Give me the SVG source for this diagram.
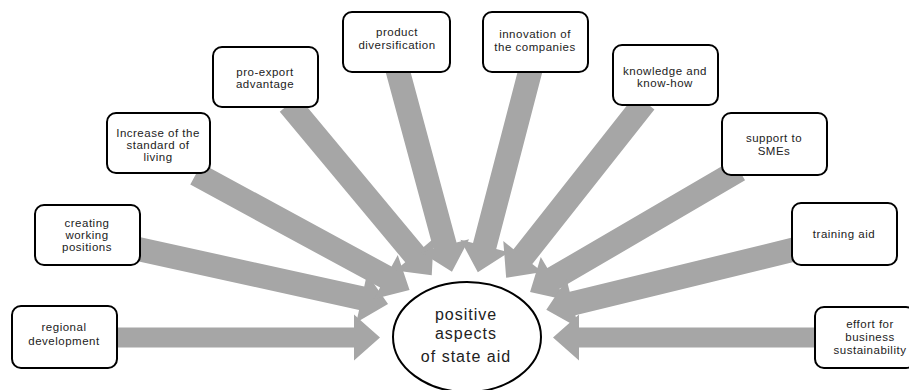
<svg xmlns="http://www.w3.org/2000/svg" width="909" height="390" viewBox="0 0 909 390">
<style>
.box{fill:#fff;stroke:#000;stroke-width:2}
.arr{fill:#a6a6a6;stroke:none}
.t{font-family:"Liberation Sans",Arial,sans-serif;font-size:11.5px;fill:#222;text-anchor:middle;letter-spacing:0.5px}
.c{font-family:"Liberation Sans",Arial,sans-serif;font-size:16px;fill:#222;text-anchor:middle;letter-spacing:1px}
</style>
<rect width="909" height="390" fill="#fff"/>
<g id="connectors">
<path class="arr" transform="translate(112,337.5)" d="M0,-10 H242 V-23 L268,0 L242,23 V10 H0 Z"/>
<path class="arr" transform="translate(820,337.5) rotate(180)" d="M0,-10 H241 V-23 L267,0 L241,23 V10 H0 Z"/>
<path class="arr" transform="translate(138,249) rotate(12.4)" d="M0,-12 H229 V-25 L256,0 L229,25 V12 H0 Z"/>
<path class="arr" transform="translate(196,174) rotate(28.5)" d="M0,-12 H216 V-25 L243,0 L216,25 V12 H0 Z"/>
<path class="arr" transform="translate(289,104) rotate(50.2)" d="M0,-12 H196 V-25 L223,0 L196,25 V12 H0 Z"/>
<path class="arr" transform="translate(397,68) rotate(74.9)" d="M0,-12 H184 V-25 L211,0 L184,25 V12 H0 Z"/>
<path class="arr" transform="translate(531,68) rotate(104.6)" d="M0,-12 H184 V-25 L211,0 L184,25 V12 H0 Z"/>
<path class="arr" transform="translate(645,102) rotate(128.3)" d="M0,-12 H197 V-25 L224,0 L197,25 V12 H0 Z"/>
<path class="arr" transform="translate(739,170) rotate(149.7)" d="M0,-12 H215 V-25 L242,0 L215,25 V12 H0 Z"/>
<path class="arr" transform="translate(796,249) rotate(166.3)" d="M0,-12 H230 V-25 L257,0 L230,25 V12 H0 Z"/>
</g>
<g id="center">
<ellipse cx="467" cy="337" rx="74" ry="55" fill="#fff" stroke="#000" stroke-width="2"/>
<text class="c" x="466" y="320">positive</text>
<text class="c" x="466" y="339">aspects</text>
<text class="c" x="466" y="362">of state aid</text>
</g>
<g id="n1"><rect class="box" x="12" y="306" width="105" height="62" rx="9"/>
<text class="t" x="64" y="331">regional</text><text class="t" x="64" y="345">development</text></g>
<g id="n2"><rect class="box" x="35" y="205" width="105" height="60" rx="9"/>
<text class="t" x="87" y="227">creating</text><text class="t" x="87" y="239">working</text><text class="t" x="87" y="251">positions</text></g>
<g id="n3"><rect class="box" x="107" y="113" width="103" height="60" rx="9"/>
<text class="t" x="158" y="137">Increase of the</text><text class="t" x="158" y="149">standard of</text><text class="t" x="158" y="161">living</text></g>
<g id="n4"><rect class="box" x="213" y="47" width="105" height="60" rx="9"/>
<text class="t" x="265" y="76">pro-export</text><text class="t" x="265" y="88">advantage</text></g>
<g id="n5"><rect class="box" x="343" y="12" width="107" height="60" rx="9"/>
<text class="t" x="397" y="36">product</text><text class="t" x="397" y="49">diversification</text></g>
<g id="n6"><rect class="box" x="483" y="12" width="105" height="60" rx="9"/>
<text class="t" x="535" y="38">innovation of</text><text class="t" x="535" y="51">the companies</text></g>
<g id="n7"><rect class="box" x="613" y="45" width="105" height="60" rx="9"/>
<text class="t" x="665" y="75">knowledge and</text><text class="t" x="665" y="87">know-how</text></g>
<g id="n8"><rect class="box" x="722" y="113" width="105" height="62" rx="9"/>
<text class="t" x="774" y="142">support to</text><text class="t" x="774" y="155">SMEs</text></g>
<g id="n9"><rect class="box" x="792" y="203" width="105" height="62" rx="9"/>
<text class="t" x="844" y="238">training aid</text></g>
<g id="n10"><rect class="box" x="815" y="307" width="100" height="61" rx="9"/>
<text class="t" x="870" y="328">effort for</text><text class="t" x="870" y="341">business</text><text class="t" x="870" y="354">sustainability</text></g>
</svg>
